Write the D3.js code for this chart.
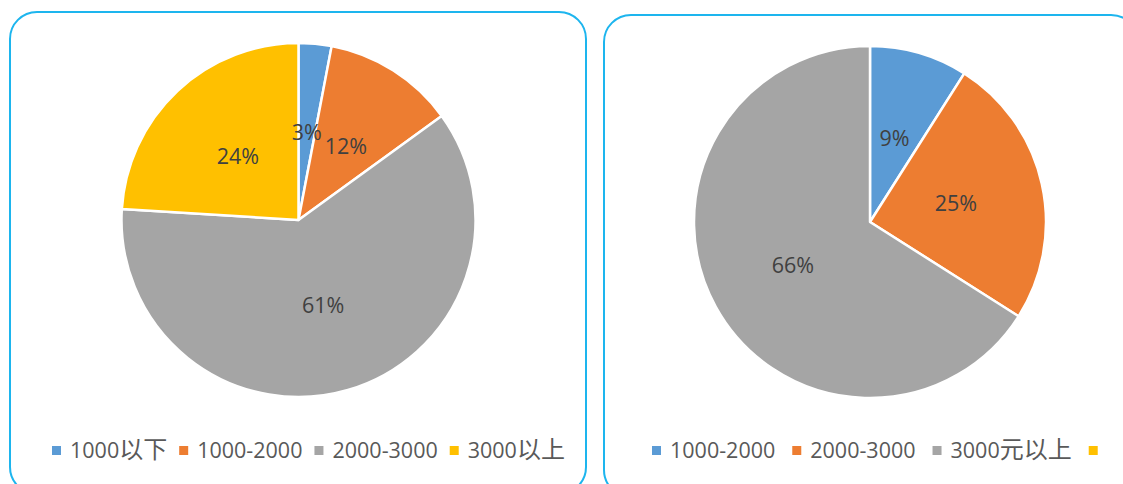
<!DOCTYPE html>
<html>
<head>
<meta charset="utf-8">
<script src="https://cdn.jsdelivr.net/npm/d3@7"></script>
<style>
  body { margin: 0; background: #fff; }
  svg { display: block; }
</style>
</head>
<body>
<svg id="chart" width="1123" height="484"></svg>
<script>
// data
const leftCategories = ['1000以下', '1000-2000', '2000-3000', '3000以上'];
const leftValues = [3, 12, 61, 24];
const rightCategories = ['1000-2000', '2000-3000', '3000元以上', ''];
const rightValues = [9, 25, 66, 0];
const colors = ['#5B9BD5', '#ED7D31', '#A5A5A5', '#FFC000'];

const FONT = '"Open Sans", "Noto Sans CJK SC", sans-serif';

const svg = d3.select('#chart');

// split a label into latin / CJK runs so the CJK glyphs can be sized a bit larger
function runs(str) {
  return str.match(/[\u4e00-\u9fff]+|[^\u4e00-\u9fff]+/g) || [];
}

function drawPanel(opts) {
  const { box, cx, cy, radius, categories, values, legendGap } = opts;
  const g = svg.append('g');

  // rounded frame
  g.append('rect')
    .attr('x', box.x).attr('y', box.y)
    .attr('width', box.w).attr('height', box.h)
    .attr('rx', 27).attr('ry', 27)
    .attr('fill', '#fff')
    .attr('stroke', '#1DB5EE')
    .attr('stroke-width', 2);

  const pie = d3.pie().sort(null).value(d => d.value);
  const arcs = pie(categories.map((c, i) => ({ cat: c, value: values[i], i })));
  const arc = d3.arc().innerRadius(0).outerRadius(radius);

  const pieG = g.append('g').attr('transform', `translate(${cx},${cy})`);

  pieG.selectAll('path')
    .data(arcs.filter(d => d.data.value > 0))
    .join('path')
    .attr('d', arc)
    .attr('fill', d => colors[d.data.i])
    .attr('stroke', '#fff')
    .attr('stroke-width', 2.5)
    .attr('stroke-linejoin', 'round');

  pieG.selectAll('text')
    .data(arcs.filter(d => d.data.value > 0))
    .join('text')
    .attr('transform', d => `translate(${arc.centroid(d)})`)
    .attr('text-anchor', 'middle')
    .attr('dominant-baseline', 'central')
    .attr('font-family', FONT)
    .attr('font-size', 21.5)
    .attr('fill', '#404040')
    .text(d => d.data.value + '%');

  // legend, laid out left to right from measured text widths
  const legend = g.append('g');
  let x = 0;
  categories.forEach((c, i) => {
    legend.append('rect')
      .attr('x', x).attr('y', 446)
      .attr('width', 9).attr('height', 9)
      .attr('fill', colors[i]);
    x += 9;
    if (c) {
      const t = legend.append('text')
        .attr('x', x + 9).attr('y', 458)
        .attr('font-family', FONT)
        .attr('font-size', 21.5)
        .attr('fill', '#595959');
      t.selectAll('tspan')
        .data(runs(c))
        .join('tspan')
        .attr('font-size', s => /[\u4e00-\u9fff]/.test(s) ? 24 : 21.5)
        .text(s => s);
      x += 9 + t.node().getComputedTextLength();
    }
    x += legendGap;
  });
  legend.attr('transform', `translate(${opts.legendX},0)`);
}

drawPanel({
  box: { x: 10, y: 12, w: 576, h: 482 },
  cx: 298.5, cy: 220, radius: 177,
  categories: leftCategories, values: leftValues,
  legendX: 52, legendGap: 12
});

drawPanel({
  box: { x: 604, y: 15, w: 534, h: 482 },
  cx: 870, cy: 222, radius: 176,
  categories: rightCategories, values: rightValues,
  legendX: 652, legendGap: 17
});
</script>
</body>
</html>
